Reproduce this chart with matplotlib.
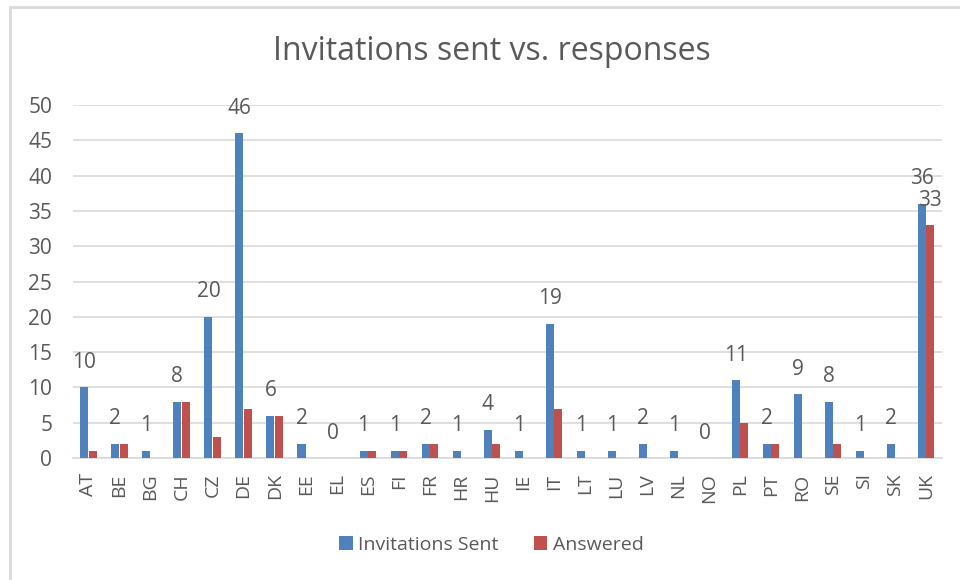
import numpy as np
import matplotlib.pyplot as plt
from matplotlib.patches import Rectangle

# --- data ---
countries = ["AT", "BE", "BG", "CH", "CZ", "DE", "DK", "EE", "EL", "ES", "FI", "FR", "HR", "HU",
             "IE", "IT", "LT", "LU", "LV", "NL", "NO", "PL", "PT", "RO", "SE", "SI", "SK", "UK"]
invitations = [10, 2, 1, 8, 20, 46, 6, 2, 0, 1, 1, 2, 1, 4,
               1, 19, 1, 1, 2, 1, 0, 11, 2, 9, 8, 1, 2, 36]
answered = [1, 2, 0, 8, 3, 7, 6, 0, 0, 1, 1, 2, 0, 2,
            0, 7, 0, 0, 0, 0, 0, 5, 2, 0, 2, 0, 0, 33]
yticks = [0, 5, 10, 15, 20, 25, 30, 35, 40, 45, 50]

plt.rcParams['font.family'] = ['Open Sans', 'DejaVu Sans']
text_col = "#595959"
blue = "#4F81BD"
red = "#C0504D"

fig = plt.figure(figsize=(9.6, 5.8), dpi=100)
ax = fig.add_axes([0.076, 0.2103, 0.905, 0.6087])

# chart area border (only top and left visible in the screenshot)
fig.patches.append(Rectangle((10 / 960, -0.1), 1.2, 1 - 7 / 580 + 0.1, transform=fig.transFigure,
                             fill=False, edgecolor="#D9D9D9", linewidth=2))

x = np.arange(len(countries))
w = 0.26
ax.bar(x - 0.135, invitations, width=w, color=blue, label="Invitations Sent", zorder=3)
ax.bar(x + 0.135, answered, width=w, color=red, label="Answered", zorder=3)

# data labels on invitations
for xi, v in zip(x, invitations):
    ax.annotate(str(v), (xi - 0.135, v), xytext=(0, 18), textcoords="offset points",
                ha="center", va="center", fontsize=15, color=text_col)
# only UK has an answered label
ax.annotate(str(answered[-1]), (x[-1] + 0.135, answered[-1]), xytext=(0, 18),
            textcoords="offset points", ha="center", va="center", fontsize=15, color=text_col)

ax.set_xlim(-0.5, len(countries) - 0.5)
ax.set_ylim(0, 50)
ax.set_yticks(yticks)
ax.set_xticks(x)
ax.set_xticklabels(countries, rotation=90)
ax.tick_params(axis="y", length=0, pad=15, labelsize=15, labelcolor=text_col)
ax.tick_params(axis="x", length=0, pad=11, labelsize=14, labelcolor=text_col)
ax.grid(axis="y", color="#D9D9D9", linewidth=1.2, zorder=0)
for s in ["top", "right", "left"]:
    ax.spines[s].set_visible(False)
ax.spines["bottom"].set_color("#D9D9D9")
ax.spines["bottom"].set_linewidth(1.2)

fig.text(0.512, 1 - 52 / 580, "Invitations sent vs. responses", ha="center", va="center",
         fontsize=23, color=text_col)

leg = fig.legend(loc="center", bbox_to_anchor=(0.512, 1 - 545 / 580), ncol=2, frameon=False,
                 fontsize=14, handlelength=0.7, handleheight=0.7, handletextpad=0.3,
                 columnspacing=1.8)
for t in leg.get_texts():
    t.set_color(text_col)

fig.savefig("out.png", dpi=100)
